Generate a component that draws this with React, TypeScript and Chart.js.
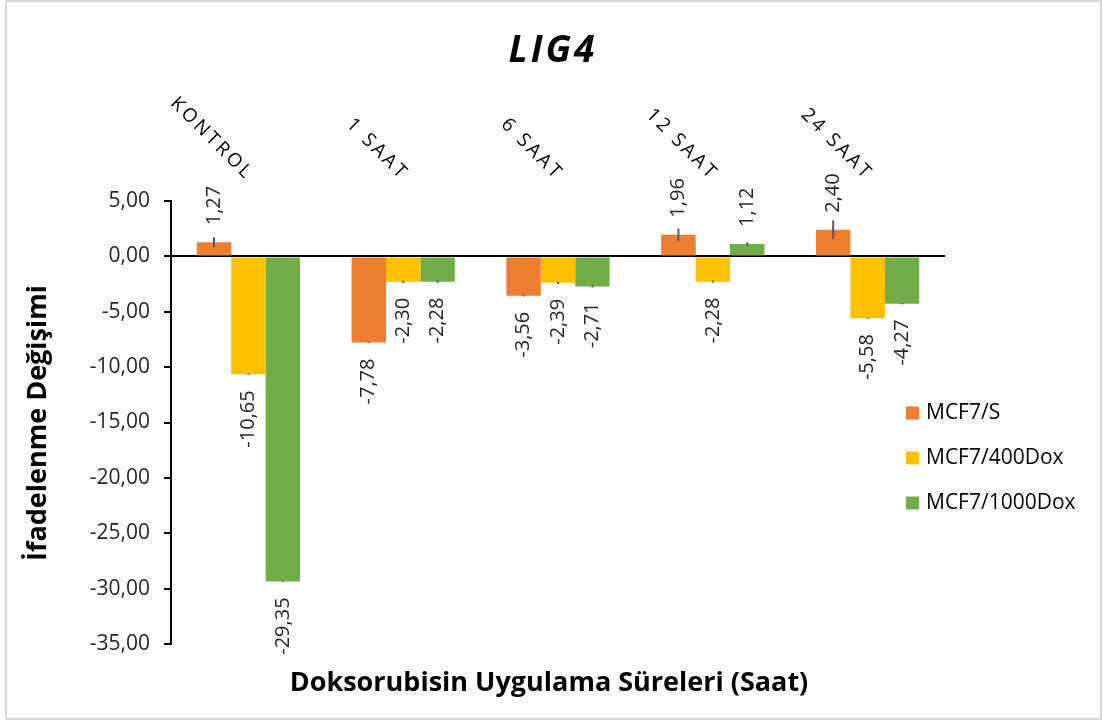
import React, { useEffect, useRef } from "react";
import { Chart, registerables } from "chart.js";

Chart.register(...registerables);

const categories = ["KONTROL", "1 SAAT", "6 SAAT", "12 SAAT", "24 SAAT"];
const seriesNames = ["MCF7/S", "MCF7/400Dox", "MCF7/1000Dox"];
const valuesS = [1.27, -7.78, -3.56, 1.96, 2.4];
const values400 = [-10.65, -2.3, -2.39, -2.28, -5.58];
const values1000 = [-29.35, -2.28, -2.71, 1.12, -4.27];
const errorsS = [0.45, 0.05, 0.05, 0.55, 0.85];
const errors400 = [0.05, 0.1, 0.1, 0.1, 0.05];
const errors1000 = [0.05, 0.1, 0.1, 0.15, 0.05];
const colors = ["#ED7D31", "#FFC000", "#70AD47"];
const yTicks = [5, 0, -5, -10, -15, -20, -25, -30, -35];

const chartTitle = "LIG4";
const yTitle = "İfadelenme Değişimi";
const xTitle = "Doksorubisin Uygulama Süreleri (Saat)";

const FONT = '"Open Sans", "DejaVu Sans", sans-serif';
const fmt = (v: number) => v.toFixed(2).replace(".", ",");

const decorPlugin = {
  id: "decor",
  afterDatasetsDraw(chart: any) {
    const ctx = chart.ctx;
    const y = chart.scales.y;
    const x = chart.scales.x;
    const errs = [errorsS, errors400, errors1000];
    // error bars
    chart.data.datasets.forEach((ds: any, di: number) => {
      const meta = chart.getDatasetMeta(di);
      meta.data.forEach((bar: any, i: number) => {
        const v = ds.data[i];
        const e = errs[di][i];
        ctx.save();
        ctx.strokeStyle = "#595959";
        ctx.lineWidth = 2;
        ctx.beginPath();
        ctx.moveTo(bar.x, y.getPixelForValue(v + e));
        ctx.lineTo(bar.x, y.getPixelForValue(v - e));
        ctx.stroke();
        ctx.restore();
      });
    });
    // data labels
    chart.data.datasets.forEach((ds: any, di: number) => {
      const meta = chart.getDatasetMeta(di);
      meta.data.forEach((bar: any, i: number) => {
        const v = ds.data[i];
        ctx.save();
        ctx.font = `20px ${FONT}`;
        ctx.fillStyle = "#262626";
        ctx.textBaseline = "middle";
        const end = y.getPixelForValue(v);
        if (v >= 0) {
          ctx.translate(bar.x, end - 17);
          ctx.rotate(-Math.PI / 2);
          ctx.textAlign = "left";
        } else {
          ctx.translate(bar.x, end + 16);
          ctx.rotate(-Math.PI / 2);
          ctx.textAlign = "right";
        }
        ctx.fillText(fmt(v), 0, 0);
        ctx.restore();
      });
    });
    // category labels (top, rotated 45deg)
    categories.forEach((c, i) => {
      const cx = x.getPixelForValue(i);
      ctx.save();
      ctx.font = `19px ${FONT}`;
      (ctx as any).letterSpacing = "3px";
      ctx.fillStyle = "#000";
      ctx.translate(cx - 2, 181);
      ctx.rotate(Math.PI / 4);
      ctx.textAlign = "right";
      ctx.textBaseline = "alphabetic";
      ctx.fillText(c, 0, 0);
      ctx.restore();
    });
  },
  afterDraw(chart: any) {
    const ctx = chart.ctx;
    // title
    ctx.save();
    ctx.font = `italic bold 37px ${FONT}`;
    (ctx as any).letterSpacing = "3px";
    ctx.fillStyle = "#000";
    ctx.textAlign = "center";
    ctx.textBaseline = "alphabetic";
    ctx.fillText(chartTitle, 553, 62);
    ctx.restore();
    // y title
    ctx.save();
    ctx.font = `bold 27px ${FONT}`;
    ctx.fillStyle = "#000";
    ctx.translate(38, 423);
    ctx.rotate(-Math.PI / 2);
    ctx.textAlign = "center";
    ctx.textBaseline = "middle";
    ctx.fillText(yTitle, 0, 0);
    ctx.restore();
    // x title
    ctx.save();
    ctx.font = `bold 27px ${FONT}`;
    ctx.fillStyle = "#000";
    ctx.textAlign = "center";
    ctx.textBaseline = "alphabetic";
    ctx.fillText(xTitle, 549, 691);
    ctx.restore();
    // legend
    seriesNames.forEach((n, i) => {
      const ly = 413 + i * 45;
      ctx.save();
      ctx.fillStyle = colors[i];
      ctx.fillRect(906, ly - 6.5, 13, 13);
      ctx.font = `21px ${FONT}`;
      ctx.fillStyle = "#000";
      ctx.textAlign = "left";
      ctx.textBaseline = "middle";
      ctx.fillText(n, 926, ly);
      ctx.restore();
    });
    // outer border
    ctx.save();
    ctx.strokeStyle = "#d9d9d9";
    ctx.lineWidth = 2;
    ctx.strokeRect(6, 1, 1095, 718);
    ctx.restore();
  },
};

export default function App() {
  const ref = useRef<HTMLCanvasElement>(null);
  useEffect(() => {
    if (!ref.current) return;
    const chart = new Chart(ref.current, {
      type: "bar",
      data: {
        labels: categories,
        datasets: [
          { label: seriesNames[0], data: valuesS, backgroundColor: colors[0] },
          { label: seriesNames[1], data: values400, backgroundColor: colors[1] },
          { label: seriesNames[2], data: values1000, backgroundColor: colors[2] },
        ],
      },
      options: {
        animation: false,
        responsive: false,
        devicePixelRatio: 1,
        layout: { padding: { left: 0, right: 158, top: 201, bottom: 78 } },
        datasets: { bar: { barPercentage: 1, categoryPercentage: 0.667 } },
        plugins: { legend: { display: false }, title: { display: false }, tooltip: { enabled: false } },
        scales: {
          x: {
            ticks: { display: false },
            grid: { display: false, drawTicks: false },
            border: { display: false },
            afterFit: (s: any) => { s.height = 0; },
          },
          y: {
            min: -35,
            max: 5,
            afterBuildTicks: (s: any) => { s.ticks = yTicks.map((v) => ({ value: v })); },
            ticks: {
              font: { family: FONT, size: 21 },
              color: "#262626",
              padding: 14,
              callback: (v: any) => fmt(Number(v)),
            },
            grid: {
              color: (c: any) => (c.tick && c.tick.value === 0 ? "#000" : "rgba(0,0,0,0)"),
              tickColor: "#000",
              lineWidth: 2,
              tickLength: 7,
            },
            border: { display: true, color: "#000", width: 2 },
            afterFit: (s: any) => { s.width = 171; },
          },
        },
      },
      plugins: [decorPlugin],
    });
    return () => chart.destroy();
  }, []);
  return (
    <div style={{ position: "absolute", left: 0, top: 0, width: 1103, height: 722, background: "#fff" }}>
      <canvas ref={ref} width={1103} height={722} style={{ width: 1103, height: 722, display: "block" }} />
    </div>
  );
}
